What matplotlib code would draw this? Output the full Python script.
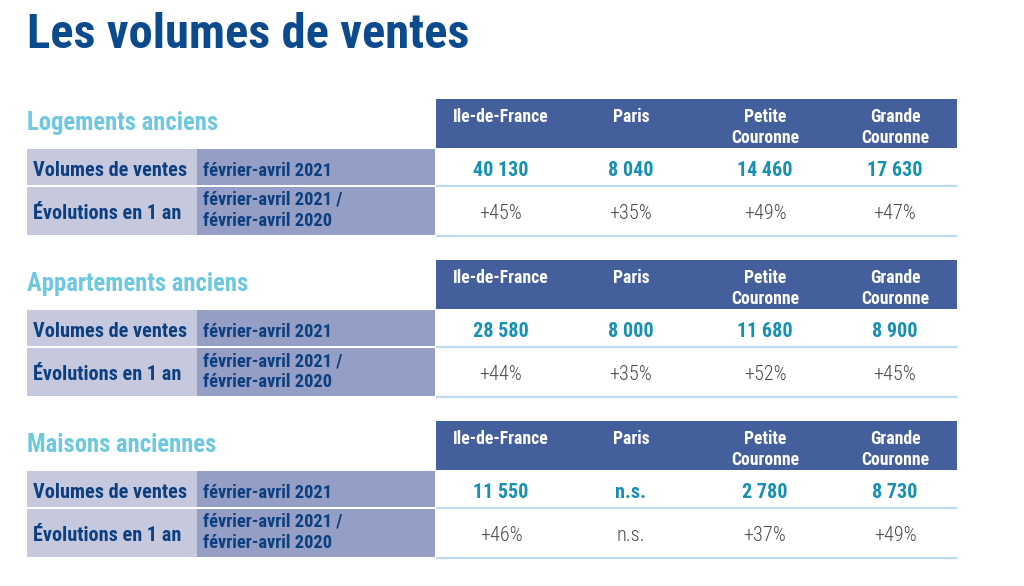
import matplotlib
matplotlib.use("Agg")
import matplotlib.pyplot as plt
from matplotlib.patches import Rectangle

# ---------------- data ----------------
title = "Les volumes de ventes"
sections = ["Logements anciens", "Appartements anciens", "Maisons anciennes"]
regions = ["Ile-de-France", "Paris", "Petite\nCouronne", "Grande\nCouronne"]
row_labels = ["Volumes de ventes", "Évolutions en 1 an"]
row_periods = ["février-avril 2021", "février-avril 2021 /\nfévrier-avril 2020"]

volumes_logements = [40130, 8040, 14460, 17630]
volumes_appartements = [28580, 8000, 11680, 8900]
volumes_maisons = [11550, None, 2780, 8730]

evol_logements = [45, 35, 49, 47]
evol_appartements = [44, 35, 52, 45]
evol_maisons = [46, None, 37, 49]

volumes = [volumes_logements, volumes_appartements, volumes_maisons]
evolutions = [evol_logements, evol_appartements, evol_maisons]

# ---------------- style ----------------
FONT = ["Roboto Condensed", "Roboto", "DejaVu Sans"]
C_TITLE = "#0b4a8c"
C_SECTION = "#6ec8df"
C_HEADER = "#44609c"
C_LEFT = "#c6c9de"
C_MID = "#959ec4"
C_LABEL = "#0c3f80"
C_VALUE = "#1690b3"
C_PCT = "#4a4a4a"
C_SEP = "#bcdcee"


def fmt_vol(v):
    if v is None:
        return "n.s."
    return f"{v:,}".replace(",", " ")


def fmt_pct(v):
    if v is None:
        return "n.s."
    return f"+{v}%"


fig = plt.figure(figsize=(10.24, 5.86), dpi=100)
ax = fig.add_axes([0, 0, 1, 1])
ax.set_xlim(0, 1024)
ax.set_ylim(586, 0)
ax.axis("off")

ax.text(27, 48, title, fontsize=35, fontweight="bold", color=C_TITLE,
        family=FONT, va="baseline", ha="left")

x_left0, x_split, x_mid1 = 27, 197, 435
x_data0, x_data1 = 436, 957
col_centers = [501, 631, 765, 895]
header_tops = [99, 260, 421]
LINE = 21

for s, ht in enumerate(header_tops):
    # section title
    ax.text(x_left0, ht + 31, sections[s], fontsize=17.7, fontweight="bold",
            color=C_SECTION, family=FONT, va="baseline", ha="left")
    # header band
    ax.add_patch(Rectangle((x_data0, ht), x_data1 - x_data0, 49,
                           facecolor=C_HEADER, edgecolor="none"))
    for c, reg in enumerate(regions):
        for k, line in enumerate(reg.split("\n")):
            ax.text(col_centers[c], ht + 23 + LINE * k, line, fontsize=12.7,
                    fontweight="bold", color="white", family=FONT,
                    va="baseline", ha="center")
    # rows
    rows = [(ht + 50, 36), (ht + 88, 48)]
    baselines = [ht + 77, ht + 120]
    for r, (ry, rh) in enumerate(rows):
        ax.add_patch(Rectangle((x_left0, ry), x_split - x_left0, rh,
                               facecolor=C_LEFT, edgecolor="none"))
        ax.add_patch(Rectangle((x_split, ry), x_mid1 - x_split, rh,
                               facecolor=C_MID, edgecolor="none"))
        ax.plot([x_data0, x_data1], [ry + rh + 0.5, ry + rh + 0.5],
                color=C_SEP, lw=1.6, solid_capstyle="butt")
        bl = baselines[r]
        ax.text(x_left0 + 6, bl, row_labels[r], fontsize=14.6,
                fontweight="bold", color=C_LABEL, family=FONT,
                va="baseline", ha="left")
        plines = row_periods[r].split("\n")
        if len(plines) == 1:
            pbase = [bl]
        else:
            pbase = [ht + 106, ht + 127]
        for k, line in enumerate(plines):
            ax.text(x_split + 6, pbase[k], line, fontsize=13.2,
                    fontweight="bold", color=C_LABEL, family=FONT,
                    va="baseline", ha="left")
        for c in range(4):
            if r == 0:
                ax.text(col_centers[c], bl, fmt_vol(volumes[s][c]),
                        fontsize=14.5, fontweight="bold", color=C_VALUE,
                        family=FONT, va="baseline", ha="center")
            else:
                ax.text(col_centers[c], bl, fmt_pct(evolutions[s][c]),
                        fontsize=14.6, fontweight="light", color=C_PCT,
                        family=FONT, va="baseline", ha="center")

fig.savefig("out.png", dpi=100)
